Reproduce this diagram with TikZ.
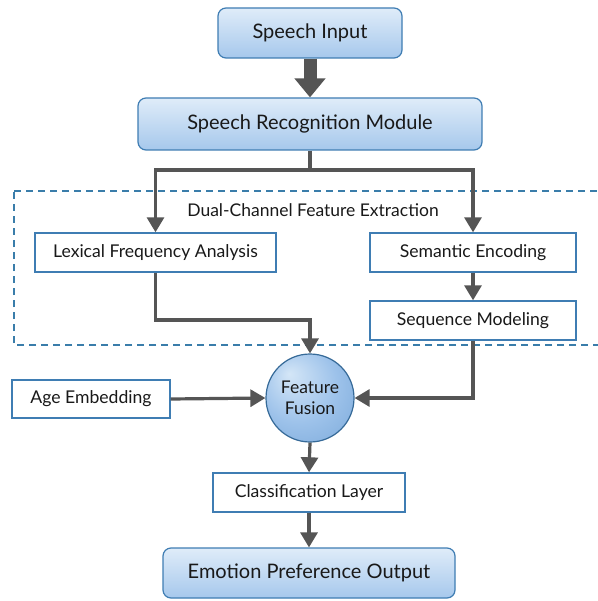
\documentclass[tikz,border=0pt]{standalone}
\usepackage{fontspec}
\setmainfont{Lato}
\usetikzlibrary{arrows.meta,shadings}
\definecolor{bordblue}{HTML}{3F7DB3}
\definecolor{lightblue}{HTML}{DFECF9}
\definecolor{midblue}{HTML}{A6C8EC}
\definecolor{arrgray}{HTML}{555555}
\definecolor{dashblue}{HTML}{3A7DAA}
\definecolor{fusa}{HTML}{D4E6F7}
\definecolor{fusb}{HTML}{9DC2EA}
\definecolor{fusc}{HTML}{6A9DD2}
\pgfdeclareradialshading{fusionball}{\pgfpoint{-12bp}{14bp}}{color(0bp)=(fusa); color(22bp)=(fusb); color(50bp)=(fusc)}
\tikzset{
  mainbox/.style={draw=bordblue, line width=1.2pt, rounded corners=8pt,
    top color=lightblue, bottom color=midblue, font=\fontsize{20}{24}\selectfont,
    text=black!90, inner sep=0pt},
  plainbox/.style={draw=bordblue, line width=1.4pt, fill=white,
    font=\fontsize{17.6}{21}\selectfont, text=black!90, inner sep=0pt},
  conn/.style={draw=arrgray, line width=3.2pt, -{Triangle[width=17pt,length=15pt]}},
  thickconn/.style={draw=arrgray, line width=13pt, -{Triangle[width=30pt,length=19pt]}},
  fusion/.style={circle, draw=bordblue!85!black, line width=1.2pt, inner sep=0pt,
    minimum size=88pt, shading=fusionball,
    font=\fontsize{17.5}{21}\selectfont, align=center, text=black!90},
}
\begin{document}
\begin{tikzpicture}[x=1pt,y=-1pt]
\useasboundingbox (0,0) rectangle (597,601);
\fill[white] (0,0) rectangle (597,601);
% dashed region
\draw[dashblue, line width=1.3pt, dash pattern=on 7pt off 5pt] (14,191) -- (600,191) (600,345) -- (14,345) -- (14,191);
\node[font=\fontsize{17.5}{21}\selectfont, text=black!90] (dlabel) at (313,210) {Dual-Channel Feature Extraction};
% nodes
\node[mainbox, minimum width=184pt, minimum height=50pt] (inp) at (310,33) {Speech Input};
\node[mainbox, minimum width=344pt, minimum height=52pt] (srm) at (310,124) {Speech Recognition Module};
\node[plainbox, minimum width=241pt, minimum height=39pt] (lex) at (155.5,252.5) {Lexical Frequency Analysis};
\node[plainbox, minimum width=206pt, minimum height=39pt] (sem) at (473,252.5) {Semantic Encoding};
\node[plainbox, minimum width=206pt, minimum height=39pt] (seq) at (473,320.5) {Sequence Modeling};
\node[fusion] (fus) at (310,398) {Feature\\Fusion};
\node[plainbox, minimum width=158pt, minimum height=38pt] (age) at (91,399) {Age Embedding};
\node[plainbox, minimum width=192pt, minimum height=39pt] (cls) at (309,492.5) {Classification Layer};
\node[mainbox, minimum width=292pt, minimum height=50pt] (out) at (309,573) {Emotion Preference Output};
\coordinate (split) at (310,170);
% connectors
\draw[thickconn] (inp.south) -- (srm.north);
\draw[draw=arrgray, line width=3.2pt] (srm.south) -- (split);
\draw[conn] (split) -| (lex.north);
\draw[conn] (split) -| (sem.north);
\draw[conn] (sem.south) -- (seq.north);
\draw[conn] (lex.south) |- (310,320) -- (fus.north);
\draw[conn] (seq.south) |- (fus.east);
\draw[conn] (age.east) -- (fus.west);
\draw[conn] (fus.south) -- (cls.north);
\draw[conn] (cls.south) -- (out.north);
\end{tikzpicture}
\end{document}
